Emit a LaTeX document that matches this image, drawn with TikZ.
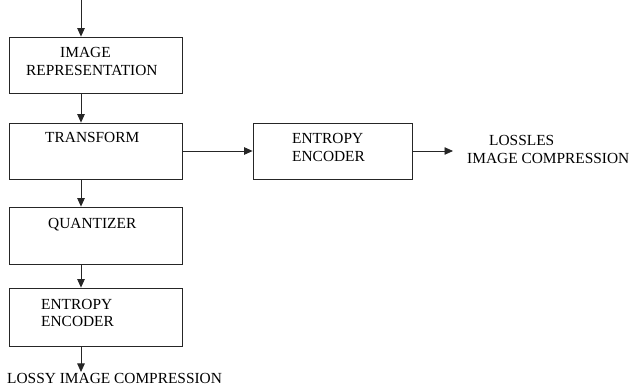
\documentclass[tikz,border=0pt]{standalone}
\usepackage{fontspec}
\setmainfont{Liberation Serif}
\usetikzlibrary{arrows.meta}
\begin{document}
\begin{tikzpicture}[x=1pt,y=-1pt,
  box/.style={draw=black!85,line width=0.8pt,rectangle,inner sep=0pt,minimum height=56pt},
  lbl/.style={anchor=base west,inner sep=0pt,font=\fontsize{15.4}{17}\selectfont},
  arr/.style={draw=black!85,line width=0.8pt,-{Triangle[length=8.5pt,width=7.5pt]}}]
\useasboundingbox (0,0) rectangle (633,387);
\node[box,minimum width=173pt] (b1) at (95.5,65) {};
\node[box,minimum width=173pt] (b2) at (95.5,151) {};
\node[box,minimum width=173pt,minimum height=57pt] (b4) at (95.5,235.5) {};
\node[box,minimum width=173pt,minimum height=58pt] (b5) at (95.5,317) {};
\node[box,minimum width=159pt] (b3) at (332.5,151) {};
\coordinate (ax) at (81,0);
\coordinate (rend) at (453,151);
\coordinate (bend) at (81,372);
\draw[arr] (ax) -- (ax |- b1.north);
\draw[arr] (b1.south -| ax) -- (b2.north -| ax);
\draw[arr] (b2.south -| ax) -- (b4.north -| ax);
\draw[arr] (b4.south -| ax) -- (b5.north -| ax);
\draw[arr] (b5.south -| ax) -- (bend);
\draw[arr] (b2.east) -- (b3.west);
\draw[arr] (b3.east) -- (rend);
\node[lbl] (t1) at (60,58) {IMAGE};
\node[lbl] (t2) at (26,76) {REPRESENTATION};
\node[lbl] (t3) at (45,143) {TRANSFORM};
\node[lbl] (t4) at (48,229) {QUANTIZER};
\node[lbl] (t5) at (41,310) {ENTROPY};
\node[lbl] (t6) at (41,327) {ENCODER};
\node[lbl] (t7) at (7,384) {LOSSY IMAGE COMPRESSION};
\node[lbl] (t8) at (292,144) {ENTROPY};
\node[lbl] (t9) at (292,162) {ENCODER};
\node[lbl] (t10) at (489,146) {LOSSLES};
\node[lbl] (t11) at (467,164) {IMAGE COMPRESSION};
\end{tikzpicture}
\end{document}
